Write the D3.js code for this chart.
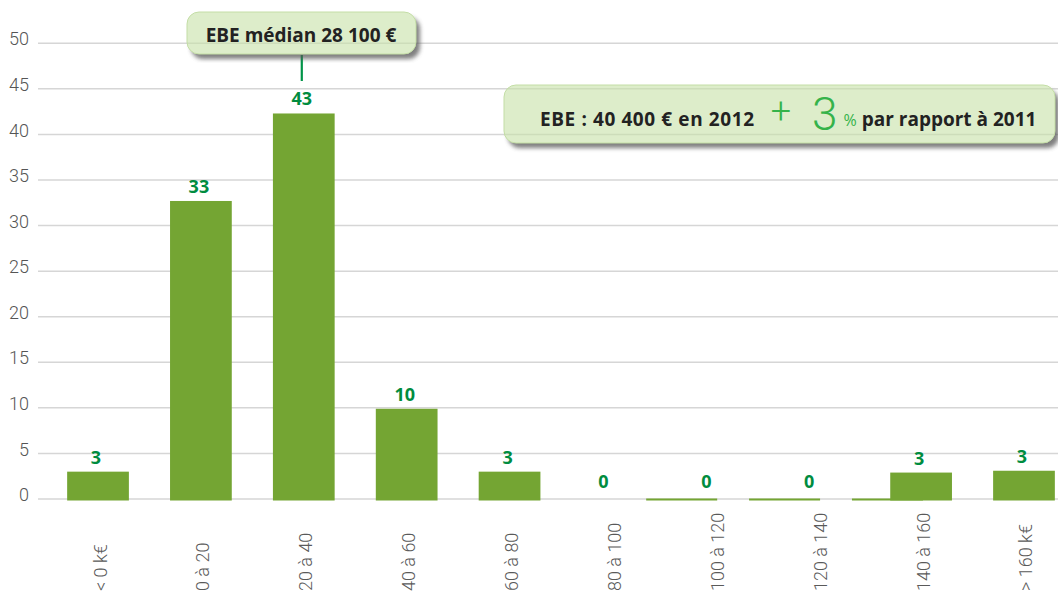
<!DOCTYPE html>
<html>
<head>
<meta charset="utf-8">
<script src="https://cdn.jsdelivr.net/npm/d3@7"></script>
<style>
  html, body { margin: 0; padding: 0; background: #fff; }
  svg { display: block; }
</style>
</head>
<body>
<svg id="chart" width="1058" height="593"></svg>
<script>
// ---- data ----
const categories = ["< 0 k€", "0 à 20", "20 à 40", "40 à 60", "60 à 80", "80 à 100", "100 à 120", "120 à 140", "140 à 160", "> 160 k€"];
const barValues  = [3.0, 32.7, 42.3, 9.9, 3.0, 0, 0, 0, 2.9, 3.1];
const valueLabels = ["3", "33", "43", "10", "3", "0", "0", "0", "3", "3"];
const hairlines = ["100 à 120", "120 à 140", "140 à 160"];
const yTicks = [0, 5, 10, 15, 20, 25, 30, 35, 40, 45, 50];
const medianText = "EBE médian 28 100 €";
const medianCategory = "20 à 40";
const summaryMain = "EBE : 40 400 € en 2012";
const summaryPlus = "+";
const summaryChange = "3";
const summaryPct = "%";
const summaryTail = "par rapport à 2011";

// ---- setup ----
const svg = d3.select("#chart");
const W = 1058, H = 593;
const barGreen = "#74a533";
const labelGreen = "#008c3f";
const brightGreen = "#35b34a";

const y = d3.scaleLinear().domain([0, 50]).range([499, 43.3]);
const x = d3.scaleBand().domain(categories).range([26, 1096]).paddingInner(0.4).paddingOuter(0.4);

const defs = svg.append("defs");
const blur = defs.append("filter").attr("id", "blur").attr("x", "-20%").attr("y", "-50%").attr("width", "140%").attr("height", "200%");
blur.append("feGaussianBlur").attr("stdDeviation", 2.2);

// gridlines
svg.append("g").selectAll("line").data(yTicks).join("line")
  .attr("x1", 38).attr("x2", W)
  .attr("y1", d => y(d)).attr("y2", d => y(d))
  .attr("stroke", "#d6d6d6").attr("stroke-width", 1.5);

// y labels
svg.append("g").selectAll("text").data(yTicks).join("text")
  .attr("x", 29).attr("y", d => y(d)).attr("dy", "0.12em")
  .attr("text-anchor", "end")
  .attr("font-family", "Roboto, 'Open Sans', sans-serif").attr("font-weight", 300)
  .attr("font-size", 18).attr("fill", "#555")
  .text(d => d);

// hairlines for near-zero classes
svg.append("g").selectAll("rect").data(hairlines).join("rect")
  .attr("x", d => x(d) - x.bandwidth() * 0.62)
  .attr("width", x.bandwidth() * 1.15)
  .attr("y", y(0) - 0.5).attr("height", 2)
  .attr("fill", barGreen);

// bars
const bars = categories.map((c, i) => ({ c, v: barValues[i], label: valueLabels[i] }));
svg.append("g").selectAll("rect").data(bars.filter(d => d.v > 0)).join("rect")
  .attr("x", d => x(d.c))
  .attr("width", x.bandwidth())
  .attr("y", d => y(d.v))
  .attr("height", d => y(0) + 1.5 - y(d.v))
  .attr("fill", barGreen);

// value labels
svg.append("g").selectAll("text").data(bars).join("text")
  .attr("x", d => x(d.c) + x.bandwidth() / 2 - (d.v > 0 ? 2 : 9))
  .attr("y", d => d.v > 0 ? y(d.v) - 8 : y(0) - 11)
  .attr("text-anchor", "middle")
  .attr("font-family", "'Open Sans', sans-serif").attr("font-weight", 700)
  .attr("font-size", 18).attr("fill", labelGreen)
  .text(d => d.label);

// x labels
svg.append("g").selectAll("text").data(categories).join("text")
  .attr("transform", d => `translate(${x(d) + x.bandwidth() / 2 + 2},591) rotate(-90)`)
  .attr("dy", "0.36em")
  .attr("text-anchor", "start")
  .attr("font-family", "Roboto, 'Open Sans', sans-serif").attr("font-weight", 300)
  .attr("font-size", 18).attr("fill", "#5a5a5a")
  .text(d => d);

// callout helper: shadow outside the box, translucent box
function callout(id, bx, by, bw, bh) {
  const mask = defs.append("mask").attr("id", id + "-mask");
  mask.append("rect").attr("x", 0).attr("y", 0).attr("width", W).attr("height", H).attr("fill", "#fff");
  mask.append("rect").attr("x", bx).attr("y", by).attr("width", bw).attr("height", bh).attr("rx", 12).attr("fill", "#000");
  const g = svg.append("g");
  g.append("rect").attr("x", bx + 4).attr("y", by + 5).attr("width", bw).attr("height", bh).attr("rx", 12)
    .attr("fill", "#555").attr("opacity", 0.75).attr("filter", "url(#blur)").attr("mask", `url(#${id}-mask)`);
  g.append("rect").attr("x", bx).attr("y", by).attr("width", bw).attr("height", bh).attr("rx", 12)
    .attr("fill", "#c6e1a6").attr("fill-opacity", 0.6)
    .attr("stroke", "#c4dea6").attr("stroke-width", 1);
  return g;
}

// median callout
const mx = x(medianCategory) + x.bandwidth() / 2 - 2;
svg.append("line").attr("x1", mx).attr("x2", mx).attr("y1", 55).attr("y2", 81)
  .attr("stroke", "#009448").attr("stroke-width", 2.2);
const c1 = callout("c1", 187, 12, 229, 42);
c1.append("text").attr("x", 301).attr("y", 42).attr("text-anchor", "middle")
  .attr("font-family", "'Open Sans', sans-serif").attr("font-weight", 700)
  .attr("font-size", 19).attr("fill", "#222")
  .text(medianText);

// summary callout
const c2 = callout("c2", 504, 85, 551, 58);
const t2 = c2.append("text").attr("x", 540).attr("y", 126)
  .attr("font-family", "'Open Sans', sans-serif");
t2.append("tspan").attr("font-weight", 700).attr("font-size", 19).attr("letter-spacing", 0.6).attr("fill", "#222").text(summaryMain);
t2.append("tspan").attr("dx", 16).attr("font-family", "Roboto, sans-serif").attr("font-weight", 300).attr("font-size", 36).attr("fill", brightGreen).attr("dy", -3).text(summaryPlus);
t2.append("tspan").attr("dx", 21).attr("font-family", "Roboto, sans-serif").attr("font-weight", 300).attr("font-size", 46).attr("fill", brightGreen).attr("dy", 7).text(summaryChange);
t2.append("tspan").attr("dx", 6).attr("font-weight", 400).attr("font-size", 16).attr("fill", brightGreen).attr("dy", -4).text(summaryPct);
t2.append("tspan").attr("dx", 5).attr("font-weight", 700).attr("font-size", 19).attr("fill", "#222").text(summaryTail);
</script>
</body>
</html>
